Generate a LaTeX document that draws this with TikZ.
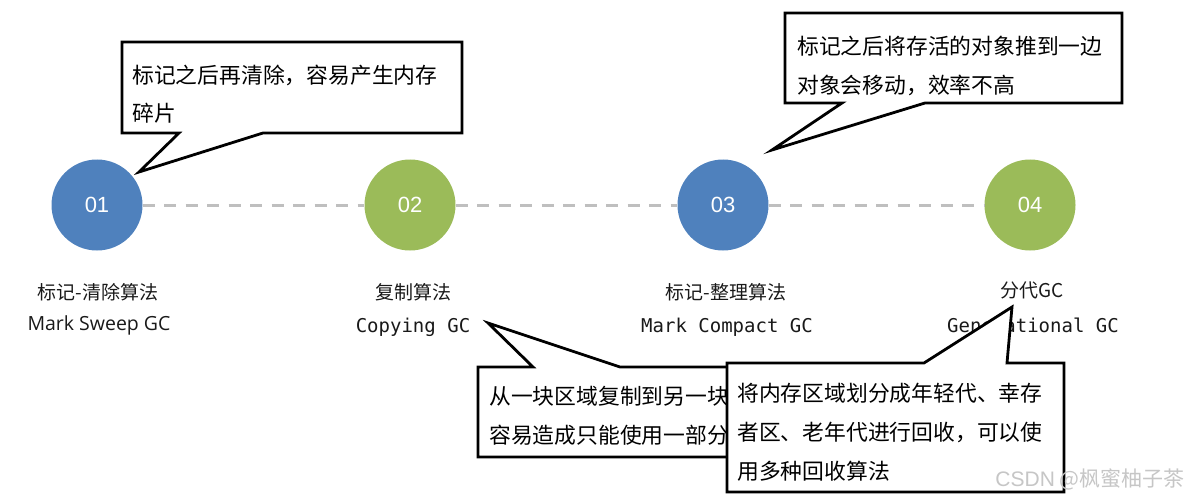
\documentclass[tikz,border=0pt]{standalone}
\usepackage{fontspec}
\setmainfont{Noto Sans CJK SC}
\setmonofont{DejaVu Sans Mono}
\newfontfamily\numfont{Liberation Sans}
\newfontfamily\latfont{Open Sans}
\definecolor{gcblue}{HTML}{4F81BD}
\definecolor{gcgreen}{HTML}{9BBB59}
\definecolor{dashgray}{HTML}{BFBFBF}
\newcommand{\fsz}[2]{\fontsize{#1}{#2}\selectfont}

\begin{document}
\begin{tikzpicture}[x=1pt,y=-1pt,
  stage/.style={circle,minimum size=91pt,inner sep=0pt,text=white,font=\numfont\fsz{22}{22}},
  link/.style={dashgray,line width=3pt,dash pattern=on 12pt off 9.5pt},
  cname/.style={text=black!90,font=\fsz{19}{20},inner sep=0pt},
  ename/.style={text=black!90,font=\ttfamily\fsz{19}{20},inner sep=0pt},
  bubble/.style={draw=black,fill=white,line width=2.8pt,line join=miter},
  note/.style={anchor=base west,align=left,inner sep=0pt,font=\fsz{21.8}{39}}]
  \useasboundingbox (0,0) rectangle (1194,500);

  % the four collectors
  \node[stage,fill=gcblue]  (c1) at (97,205)   {01};
  \node[stage,fill=gcgreen] (c2) at (410,205)  {02};
  \node[stage,fill=gcblue]  (c3) at (723,205)  {03};
  \node[stage,fill=gcgreen] (c4) at (1030,205) {04};
  \draw[link] (c1) -- (c2);
  \draw[link] (c2) -- (c3);
  \draw[link] (c3) -- (c4);

  \node[cname] (t1) at (98,292)   {标记-清除算法};
  \node[cname,font=\latfont\fsz{19.5}{20}] (e1) at (99,325) {Mark Sweep GC};
  \node[cname] (t2) at (413,292)  {复制算法};
  \node[ename] (e2) at (413,327)  {Copying GC};
  \node[cname] (t3) at (726,292)  {标记-整理算法};
  \node[ename] (e3) at (727,327)  {Mark Compact GC};
  \node[cname] (t4) at (1032,290) {分代GC};
  \node[ename] (e4) at (1033,325) {Generational GC};

  % callouts (text node sits on the baseline of its last line)
  \coordinate (tip1) at (139,172);
  \draw[bubble] (122,42) -- (462,42) -- (462,133) -- (263,133) -- (tip1) -- (179,133) -- (122,133) -- cycle;
  \node[note] (n1) at (132,122) {标记之后再清除，容易产生内存\\碎片};

  \coordinate (tip3) at (772,150);
  \draw[bubble] (785,13) -- (1122,13) -- (1122,103) -- (925,103) -- (tip3) -- (842,103) -- (785,103) -- cycle;
  \node[note] (n3) at (797,94) {标记之后将存活的对象推到一边\\对象会移动，效率不高};

  \coordinate (tip2) at (488,323);
  \draw[bubble] (478,367) -- (533,367) -- (tip2) -- (620,367) -- (800,367) -- (800,457) -- (478,457) -- cycle;
  \node[note] (n2) at (489,443) {从一块区域复制到另一块\\容易造成只能使用一部分};

  \coordinate (tip4) at (1012,307);
  \draw[bubble] (727,363) -- (924,363) -- (tip4) -- (1007,363) -- (1064,363) -- (1064,492) -- (727,492) -- cycle;
  \node[note] (n4) at (737,479) {将内存区域划分成年轻代、幸存\\者区、老年代进行回收，可以使\\用多种回收算法};

  \node[text=gray!45,font=\fsz{21}{22},inner sep=0pt] (mark) at (1090,479) {{\numfont CSDN} @枫蜜柚子茶};
\end{tikzpicture}
\end{document}
